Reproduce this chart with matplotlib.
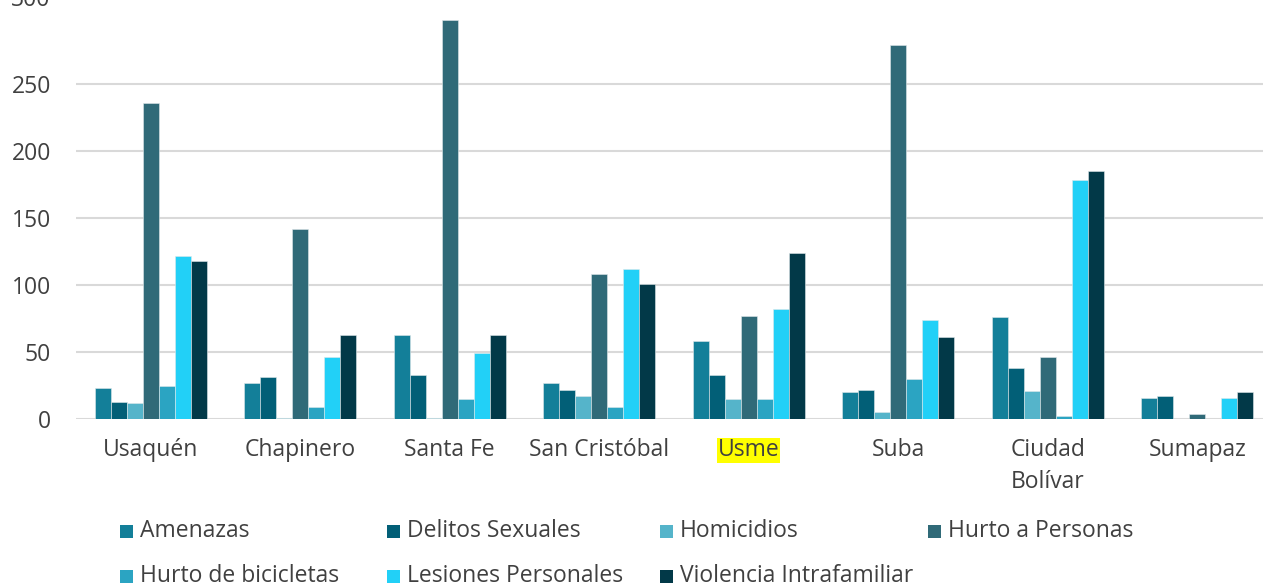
import matplotlib.pyplot as plt
import numpy as np
from matplotlib.patches import Rectangle

localidades = ["Usaquén", "Chapinero", "Santa Fe", "San Cristóbal", "Usme",
               "Suba", "Ciudad\nBolívar", "Sumapaz"]
delitos = ["Amenazas", "Delitos Sexuales", "Homicidios", "Hurto a Personas",
           "Hurto de bicicletas", "Lesiones Personales", "Violencia Intrafamiliar"]

amenazas = [23, 27, 63, 27, 58, 20, 76, 16]
delitos_sexuales = [13, 31, 33, 22, 33, 22, 38, 17]
homicidios = [12, 1, 1, 17, 15, 5, 21, 0]
hurto_personas = [236, 142, 298, 108, 77, 279, 46, 4]
hurto_bicicletas = [25, 9, 15, 9, 15, 30, 2, 0]
lesiones = [122, 46, 49, 112, 82, 74, 178, 16]
violencia = [118, 63, 63, 101, 124, 61, 185, 20]

series = [amenazas, delitos_sexuales, homicidios, hurto_personas,
          hurto_bicicletas, lesiones, violencia]
colores = ["#137F99", "#025F77", "#55B4CA", "#306A78",
           "#2BA4C2", "#22D0F7", "#023948"]

TEXT = "#404040"
FS = 16.5
plt.rcParams["font.family"] = ["Open Sans", "DejaVu Sans"]

W, H = 1263, 584
fig = plt.figure(figsize=(W / 100, H / 100), dpi=100)
ax = fig.add_axes([76 / W, 165 / H, 8 * 149.5 / W, 402 / H])

x = np.arange(len(localidades))
bw = 16 / 149.5
for i, (vals, col) in enumerate(zip(series, colores)):
    ax.bar(x + (i - 3) * bw, vals, width=bw, color=col,
           edgecolor="#dfe8ea", linewidth=0.4, zorder=3)

ax.set_xlim(-0.5, len(localidades) - 0.5)
ax.set_ylim(0, 300)
ax.set_yticks(np.arange(0, 251, 50))
ax.grid(axis="y", color="#D9D9D9", linewidth=1.5, zorder=0)
for s in ax.spines.values():
    s.set_visible(False)
ax.tick_params(axis="x", length=0, labelsize=FS, labelcolor=TEXT, pad=14)
ax.tick_params(axis="y", length=0, labelsize=FS, labelcolor=TEXT, pad=18)
ax.set_xticks(x)
ax.set_xticklabels(localidades, linespacing=1.42, va="top")
for lbl in ax.get_xticklabels():
    if lbl.get_text() == "Usme":
        lbl.set_bbox(dict(facecolor="#FFFF00", edgecolor="none", pad=0.5))

# top value label sits at the upper edge of the canvas
fig.text(50 / W, 1.0, "300", fontsize=FS, color=TEXT, ha="right", va="center")

# legend laid out on a 4-column grid below the axes
col_x = [120, 387, 660, 928]
row_y = [531, 576]
for k, (name, col) in enumerate(zip(delitos, colores)):
    cx = col_x[k % 4]
    cy = row_y[k // 4]
    fig.patches.append(Rectangle((cx / W, (H - cy - 6.5) / H), 13 / W, 13 / H,
                                 transform=fig.transFigure, facecolor=col,
                                 edgecolor="none"))
    fig.text((cx + 20) / W, (H - cy) / H, name, fontsize=FS, color=TEXT,
             va="center", ha="left")

fig.savefig("out.png", dpi=100)
